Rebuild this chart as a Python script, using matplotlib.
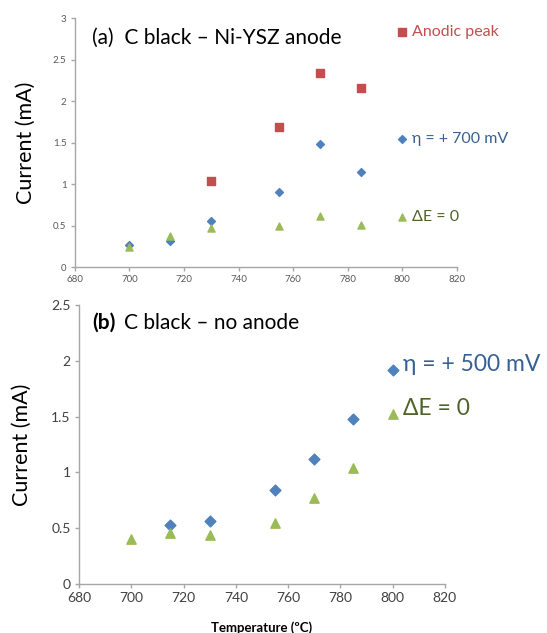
import matplotlib.pyplot as plt
from matplotlib.ticker import MultipleLocator

plt.rcParams['font.family'] = ['Lato', 'DejaVu Sans']

# Panel (a): C black with Ni-YSZ anode
temp_a = [700, 715, 730, 755, 770, 785]
peak_temp = [730, 755, 770, 785]
peak_current = [1.04, 1.69, 2.34, 2.16]
eta700_current = [0.27, 0.32, 0.56, 0.91, 1.48, 1.15]
de0_current_a = [0.24, 0.375, 0.47, 0.49, 0.62, 0.51]

# Panel (b): C black, no anode
temp_eta500 = [715, 730, 755, 770, 785]
eta500_current = [0.53, 0.565, 0.84, 1.12, 1.48]
temp_b = [700, 715, 730, 755, 770, 785]
de0_current_b = [0.40, 0.46, 0.435, 0.55, 0.77, 1.04]

# Series keys drawn as single points at 800 with a label next to them
key_x = 800
key_a = [('Anodic peak', 2.83), ('η = + 700 mV', 1.54), ('ΔE = 0', 0.61)]
key_b = [('η = + 500 mV', 1.92), ('ΔE = 0', 1.52)]

RED = '#C0504D'
BLUE = '#4F81BD'
GREEN = '#9BBB59'
AXIS_GRAY = '#A6A6A6'

fig = plt.figure(figsize=(5.47, 6.33), dpi=100)
ax1 = fig.add_axes([0.137, 0.578, 0.698, 0.393])
ax2 = fig.add_axes([0.1444, 0.0774, 0.669, 0.4408])


def style_axes(ax, ymax, ystep, tick_size, tick_color):
    ax.set_xlim(680, 820)
    ax.set_ylim(0, ymax)
    ax.xaxis.set_major_locator(MultipleLocator(20))
    ax.yaxis.set_major_locator(MultipleLocator(ystep))
    for side in ('top', 'right'):
        ax.spines[side].set_visible(False)
    for side in ('left', 'bottom'):
        ax.spines[side].set_color(AXIS_GRAY)
        ax.spines[side].set_linewidth(1.0)
    ax.tick_params(direction='out', length=3, width=1, color=AXIS_GRAY,
                   labelsize=tick_size, labelcolor=tick_color, pad=3)
    ax.yaxis.set_major_formatter(plt.FuncFormatter(lambda v, p: f'{v:g}'))


# ---- panel (a)
style_axes(ax1, 3, 0.5, 7, '#595959')
ax1.scatter(peak_temp, peak_current, marker='s', s=28, color=RED, zorder=3)
ax1.scatter(temp_a, eta700_current, marker='D', s=16, color=BLUE, zorder=3)
ax1.scatter(temp_a, de0_current_a, marker='^', s=26, color=GREEN, zorder=3)

markers_a = [('s', 28, RED, RED), ('D', 16, BLUE, '#376092'), ('^', 26, GREEN, '#4F6228')]
for (label, y), (m, s, c, tc) in zip(key_a, markers_a):
    ax1.scatter([key_x], [y], marker=m, s=s, color=c, zorder=3)
    ax1.text(key_x + 3.5, y, label, color=tc, fontsize=11.5, va='center', ha='left')

ax1.text(0.044, 0.92, '(a)  C black – Ni-YSZ anode', transform=ax1.transAxes,
         fontsize=15, va='center', ha='left', color='black')
ax1.set_ylabel('Current (mA)', fontsize=15.5, labelpad=12)

# ---- panel (b)
style_axes(ax2, 2.5, 0.5, 10, '#404040')
ax2.scatter(temp_eta500, eta500_current, marker='D', s=30, color=BLUE, zorder=3)
ax2.scatter(temp_b, de0_current_b, marker='^', s=45, color=GREEN, zorder=3)

markers_b = [('D', 30, BLUE, '#376092'), ('^', 45, GREEN, '#4F6228')]
for (label, y), (m, s, c, tc) in zip(key_b, markers_b):
    ax2.scatter([key_x], [y], marker=m, s=s, color=c, zorder=3)
    ax2.text(key_x + 4, y + 0.05, label, color=tc, fontsize=16.5, va='center', ha='left')

ax2.text(0.036, 0.935, '(b)', transform=ax2.transAxes, fontsize=15,
         fontweight='bold', va='center', ha='left')
ax2.text(0.122, 0.935, 'C black – no anode', transform=ax2.transAxes, fontsize=15,
         va='center', ha='left')
ax2.set_ylabel('Current (mA)', fontsize=15.5, labelpad=14)
ax2.set_xlabel('Temperature (ºC)', fontsize=9.5, fontweight='bold', labelpad=12)

fig.savefig('out.png', dpi=100)
